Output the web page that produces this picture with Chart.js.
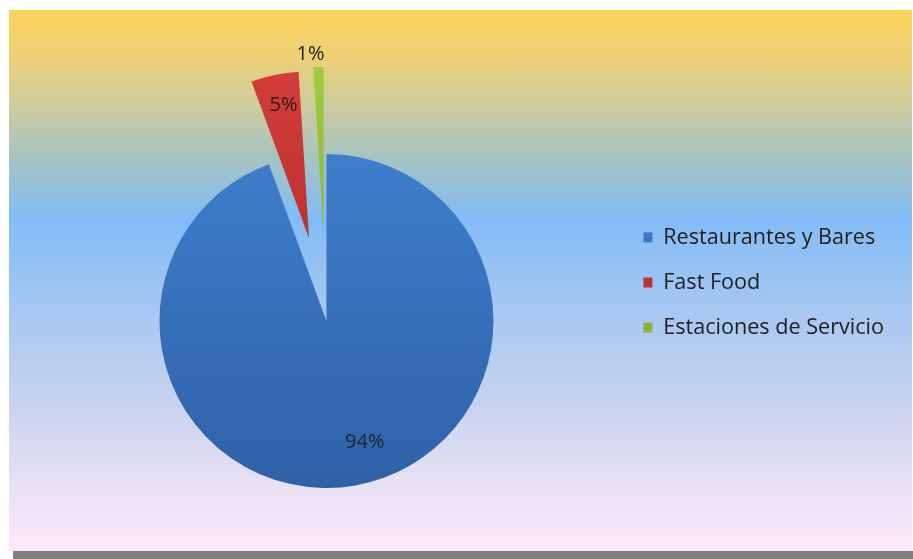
<!DOCTYPE html>
<html>
<head>
<meta charset="utf-8">
<script src="https://cdn.jsdelivr.net/npm/chart.js@4.4.1/dist/chart.umd.min.js"></script>
<style>
    html, body { margin: 0; padding: 0; background: #ffffff; width: 913px; height: 559px; overflow: hidden; }
    #panell {
        position: absolute; left: 9px; top: 10px; width: 903px; height: 541px;
        background: linear-gradient(to bottom,
            #fcd45c 0%, #ecd079 9%, #c9cba0 18.5%, #a4c3c4 28%, #82bcf5 38.5%,
            #a4c6f2 54%, #c6d2ee 72%, #e6e0f3 87%, #fce9f9 100%);
    }
    #ombra { position: absolute; left: 13px; top: 551px; width: 900px; height: 8px; background: #808080; }
</style>
</head>
<body>
<div id="panell"><canvas id="grafic"></canvas></div>
<div id="ombra"></div>
<script>
// DADES
const categories = ['Restaurantes y Bares', 'Fast Food', 'Estaciones de Servicio'];
const valors = [94.4, 4.6, 1.0];

// Colors de cada porció (dalt, baix)
const colorsDalt = ['#3e7ecb', '#d43d3a', '#a0cc40'];
const colorsBaix = ['#2f61a6', '#bb3230', '#8bb336'];

const RADI = 167;

// Degradat vertical de cada porció
function degradat(context) {
    const chart = context.chart;
    const area = chart.chartArea;
    const i = context.dataIndex;
    if (!area || i === undefined) return colorsDalt[i || 0];
    const cy = (area.top + area.bottom) / 2;
    const y0 = i === 0 ? cy - RADI : cy - RADI - 90;
    const y1 = i === 0 ? cy + RADI : cy - 80;
    const g = chart.ctx.createLinearGradient(0, y0, 0, y1);
    g.addColorStop(0, colorsDalt[i]);
    g.addColorStop(1, colorsBaix[i]);
    return g;
}

// Separa les porcions del centre (explosió)
const explosio = {
    id: 'explosio',
    afterDatasetUpdate(chart, args, opts) {
        const meta = chart.getDatasetMeta(args.index);
        meta.data.forEach((arc, i) => {
            const d = opts.distancies[i] || 0;
            const mig = (arc.startAngle + arc.endAngle) / 2;
            arc.x += Math.cos(mig) * d;
            arc.y += Math.sin(mig) * d;
        });
    }
};

// Percentatges sobre les porcions
const etiquetes = {
    id: 'etiquetes',
    afterDatasetsDraw(chart, args, opts) {
        const ctx = chart.ctx;
        const meta = chart.getDatasetMeta(0);
        const total = valors.reduce((a, b) => a + b, 0);
        ctx.save();
        ctx.font = '20px "Open Sans"';
        ctx.textAlign = 'center';
        ctx.textBaseline = 'middle';
        meta.data.forEach((arc, i) => {
            const mig = (arc.startAngle + arc.endAngle) / 2 + opts.gir[i] * Math.PI / 180;
            const r = arc.outerRadius * opts.dist[i];
            ctx.fillStyle = opts.colors[i];
            ctx.fillText(Math.round(valors[i] / total * 100) + '%', arc.x + Math.cos(mig) * r, arc.y + Math.sin(mig) * r);
        });
        ctx.restore();
    }
};

new Chart(document.getElementById('grafic'), {
    type: 'pie',
    data: {
        labels: categories,
        datasets: [{
            data: valors,
            backgroundColor: degradat,
            borderWidth: 0,
            radius: RADI
        }]
    },
    options: {
        responsive: true,
        maintainAspectRatio: false,
        animation: false,
        layout: { padding: { left: 24, right: 18, top: 4, bottom: 0 } },
        plugins: {
            // espai buit a sobre del pastís
            title: { display: true, text: '', fullSize: false, font: { size: 10 }, padding: { top: 65, bottom: 0 } },
            legend: {
                position: 'right',
                align: 'center',
                labels: {
                    boxWidth: 9,
                    boxHeight: 10,
                    padding: 23.5,
                    color: '#1e1e1e',
                    font: { family: '"Open Sans"', size: 21.6 }
                }
            },
            tooltip: { enabled: false },
            explosio: { distancies: [0, 84.5, 87] },
            etiquetes: { dist: [0.76, 0.81, 1.08], gir: [-7.5, 1, -2.4], colors: ['#1b2538', '#2a1a1a', '#222222'] }
        }
    },
    plugins: [explosio, etiquetes]
});
</script>
</body>
</html>
